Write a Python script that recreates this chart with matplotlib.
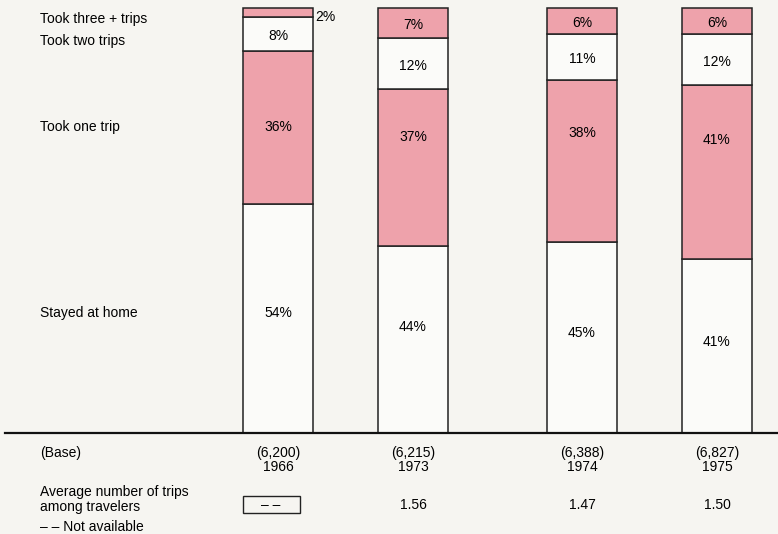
import numpy as np
import matplotlib.pyplot as plt
from matplotlib.patches import Rectangle

plt.rcParams['font.family'] = ['Liberation Sans', 'DejaVu Sans']

years = ['1966', '1973', '1974', '1975']
bases = ['(6,200)', '(6,215)', '(6,388)', '(6,827)']
avg_trips = ['– –', '1.56', '1.47', '1.50']
categories = ['Stayed at home', 'Took one trip', 'Took two trips', 'Took three + trips']
stayed = [54, 44, 45, 41]
one_trip = [36, 37, 38, 41]
two_trips = [8, 12, 11, 12]
three_plus = [2, 7, 6, 6]

# layout (x in pixels, y in percent of bar height)
xpos = [278, 413, 582, 717]
width = 70
pink = '#eea2ab'
white = '#fbfbf9'
bg = '#f6f5f1'

fig = plt.figure(figsize=(7.78, 5.34), dpi=100)
fig.patch.set_facecolor(bg)
ax = fig.add_axes([0, 0, 1, 1])
ax.set_facecolor(bg)
ax.set_xlim(0, 778)
ax.set_ylim(-23.76, 101.9)
ax.axis('off')

series = [stayed, one_trip, two_trips, three_plus]
colors = [white, pink, white, pink]
bottom = np.zeros(4)
for vals, c in zip(series, colors):
    ax.bar(xpos, vals, width=width, bottom=bottom, color=c,
           edgecolor='#222222', linewidth=1.1)
    bottom += np.array(vals)

fs = 10
# labels inside segments
for i in range(4):
    ax.text(xpos[i], [28.2, 24.9, 23.5, 21.4][i], f'{stayed[i]}%',
            ha='center', va='center', fontsize=fs)
    ax.text(xpos[i], [72, 69.6, 70.6, 68.9][i], f'{one_trip[i]}%',
            ha='center', va='center', fontsize=fs)
    y2 = stayed[i] + one_trip[i] + two_trips[i] / 2 - 0.6
    ax.text(xpos[i], y2, f'{two_trips[i]}%', ha='center', va='center', fontsize=fs)
    if three_plus[i] > 3:
        y3 = 100 - three_plus[i] / 2 - 0.6
        ax.text(xpos[i], y3, f'{three_plus[i]}%', ha='center', va='center', fontsize=fs)
    else:
        ax.text(xpos[i] + width / 2 + 2, 98.0, f'{three_plus[i]}%',
                ha='left', va='center', fontsize=fs)

# row labels on the left
for name, y in zip(categories, [28.2, 72, 92.2, 97.4]):
    ax.text(40, y, name, ha='left', va='center', fontsize=fs)

# baseline
ax.plot([5, 778], [0, 0], color='#111111', linewidth=1.6)

# base counts and years
ax.text(40, -4.8, '(Base)', ha='left', va='center', fontsize=fs)
for i in range(4):
    ax.text(xpos[i], -4.7, bases[i], ha='center', va='center', fontsize=fs)
    ax.text(xpos[i], -8.1, years[i], ha='center', va='center', fontsize=fs)

ax.text(40, -13.8, 'Average number of trips', ha='left', va='center', fontsize=fs)
ax.text(40, -17.5, 'among travelers', ha='left', va='center', fontsize=fs)
for i in range(4):
    xt = xpos[i] if i > 0 else 271
    ax.text(xt, -16.9, avg_trips[i], ha='center', va='center', fontsize=fs)
ax.add_patch(Rectangle((243, -18.8), 57, 4.0, facecolor='none',
                       edgecolor='#222222', linewidth=1.0))
ax.text(40, -22.1, '– – Not available', ha='left', va='center', fontsize=fs)

fig.savefig('out.png', dpi=100, facecolor=bg)
